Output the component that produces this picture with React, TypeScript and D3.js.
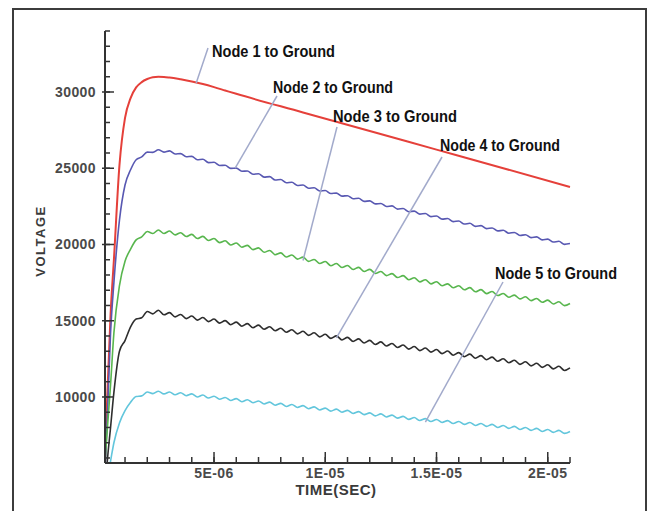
import React, { useEffect, useRef } from 'react';
import * as d3 from 'd3';

// sample times in microseconds (shared by nodes 2-5)
const timeUs = [
  0, 0.1, 0.2, 0.35, 0.5, 0.75, 1, 1.25,
  1.5, 1.75, 2, 2.25, 2.5, 2.75, 3, 3.25,
  3.5, 3.75, 4, 4.25, 4.5, 4.75, 5, 5.25,
  5.5, 5.75, 6, 6.25, 6.5, 6.75, 7, 7.25,
  7.5, 7.75, 8, 8.25, 8.5, 8.75, 9, 9.25,
  9.5, 9.75, 10, 10.25, 10.5, 10.75, 11, 11.25,
  11.5, 11.75, 12, 12.25, 12.5, 12.75, 13, 13.25,
  13.5, 13.75, 14, 14.25, 14.5, 14.75, 15, 15.25,
  15.5, 15.75, 16, 16.25, 16.5, 16.75, 17, 17.25,
  17.5, 17.75, 18, 18.25, 18.5, 18.75, 19, 19.25,
  19.5, 19.75, 20, 20.25, 20.5, 20.75, 21,
];

// node 1 is smooth, so it has its own coarser sampling
const node1TimeUs = [
  0, 0.1, 0.2, 0.35, 0.5, 0.75, 1, 1.25, 1.5, 1.75, 2, 2.25, 2.5,
  2.75, 3, 3.5, 4, 4.5, 5, 5.5, 6, 9, 12, 15, 18, 21,
];
const node1Voltage = [
  0, 5600, 10000, 15400, 19000, 25200, 28300, 29600, 30300, 30650, 30850, 30970, 31000,
  30990, 30950, 30830, 30690, 30520, 30320, 30100, 29880, 28660, 27440, 26220, 25000, 23770,
];

const node2Voltage = [
  0, 5000, 8500, 14200, 17500, 21600, 23900, 24900,
  25560, 25740, 26060, 26040, 26210, 26060, 26140, 25930,
  25960, 25750, 25780, 25560, 25590, 25370, 25390, 25180,
  25200, 24990, 25010, 24800, 24820, 24610, 24640, 24420,
  24450, 24230, 24260, 24050, 24080, 23870, 23900, 23690,
  23720, 23510, 23540, 23340, 23370, 23170, 23200, 23000,
  23030, 22830, 22860, 22660, 22690, 22490, 22530, 22320,
  22360, 22150, 22190, 21990, 22030, 21830, 21870, 21660,
  21700, 21500, 21540, 21340, 21390, 21190, 21240, 21040,
  21080, 20890, 20930, 20740, 20790, 20590, 20640, 20450,
  20500, 20300, 20350, 20160, 20210, 20010, 20060,
];

const node3Voltage = [
  0, 5500, 7800, 10800, 14200, 17300, 18900, 19700,
  20300, 20500, 20850, 20720, 20950, 20720, 20880, 20630,
  20770, 20520, 20660, 20390, 20530, 20260, 20390, 20120,
  20240, 19970, 20100, 19820, 19940, 19660, 19780, 19490,
  19610, 19330, 19450, 19180, 19310, 19040, 19170, 18890,
  19020, 18750, 18880, 18610, 18750, 18490, 18620, 18360,
  18500, 18230, 18370, 18100, 18230, 17960, 18090, 17830,
  17960, 17690, 17820, 17550, 17690, 17420, 17560, 17290,
  17420, 17160, 17290, 17030, 17170, 16900, 17040, 16780,
  16920, 16650, 16790, 16540, 16680, 16430, 16570, 16320,
  16460, 16210, 16350, 16100, 16240, 15990, 16130,
];

const node4Voltage = [
  0, 3500, 5700, 8000, 10300, 13000, 13700, 14600,
  15110, 15190, 15610, 15450, 15690, 15390, 15530, 15250,
  15410, 15140, 15310, 15040, 15210, 14940, 15110, 14840,
  15010, 14740, 14910, 14640, 14810, 14540, 14710, 14440,
  14610, 14340, 14510, 14240, 14410, 14140, 14310, 14040,
  14210, 13940, 14110, 13840, 14010, 13740, 13910, 13640,
  13810, 13540, 13710, 13440, 13610, 13340, 13510, 13240,
  13410, 13140, 13310, 13040, 13210, 12940, 13110, 12840,
  13010, 12740, 12910, 12640, 12810, 12540, 12710, 12440,
  12610, 12340, 12510, 12240, 12410, 12140, 12310, 12040,
  12210, 11940, 12110, 11840, 12010, 11740, 11910,
];

const node5Voltage = [
  0, 3500, 4600, 5800, 7000, 8300, 9100, 9650,
  10030, 10070, 10330, 10220, 10380, 10200, 10330, 10150,
  10280, 10080, 10200, 10000, 10130, 9930, 10050, 9850,
  9970, 9770, 9890, 9690, 9820, 9620, 9740, 9540,
  9660, 9460, 9580, 9380, 9510, 9310, 9430, 9230,
  9350, 9150, 9270, 9070, 9200, 9000, 9120, 8920,
  9040, 8840, 8960, 8760, 8890, 8690, 8810, 8610,
  8730, 8530, 8650, 8460, 8580, 8390, 8520, 8330,
  8450, 8260, 8390, 8200, 8330, 8130, 8260, 8070,
  8200, 8000, 8130, 7940, 8070, 7870, 8000, 7810,
  7940, 7740, 7870, 7680, 7810, 7610, 7740,
];

const seriesNames = [
  'Node 1 to Ground',
  'Node 2 to Ground',
  'Node 3 to Ground',
  'Node 4 to Ground',
  'Node 5 to Ground',
];

// where each callout arrow touches its curve (time in us, volts)
const pointerTimeUs = [4.2, 5.95, 9.0, 10.5, 14.5];
const pointerVoltage = [30590, 25010, 18950, 13880, 8350];

const yTickValues = [10000, 15000, 20000, 25000, 30000];
const yTickLabels = ['10000', '15000', '20000', '25000', '30000'];
const xTickValues = [5e-6, 1e-5, 1.5e-5, 2e-5];
const xTickLabels = ['5E-06', '1E-05', '1.5E-05', '2E-05'];

const seriesColors = ['#e5403a', '#5858b2', '#58b64e', '#2e2e2e', '#62c6dc'];
const seriesWidths = [2, 1.6, 1.6, 1.6, 1.6];

// label box (left x, baseline y, width) and the start of its pointer line
const labelLayout = [
  { x: 212, y: 57, w: 123, px: 208, py: 48 },
  { x: 273, y: 93, w: 120, px: 277, py: 96 },
  { x: 333, y: 122, w: 124, px: 337, py: 127 },
  { x: 440, y: 151, w: 120, px: 442, py: 157 },
  { x: 495, y: 279, w: 122, px: 503, py: 282 },
];

const App = () => {
  const svgRef = useRef<SVGSVGElement>(null);

  useEffect(() => {
    const svg = d3.select(svgRef.current);
    svg.selectAll('*').remove();

    const x = d3.scaleLinear().domain([1e-7, 2.1e-5]).range([105, 570]);
    const y = d3.scaleLinear().domain([5670, 34000]).range([463, 31]);
    const [x0, x1] = x.range();
    const [y0, y1] = y.range();

    svg.append('rect')
      .attr('width', 648)
      .attr('height', 511)
      .attr('fill', '#fff');

    // outer frame
    svg.append('rect')
      .attr('x', 13)
      .attr('y', 9)
      .attr('width', 633)
      .attr('height', 530)
      .attr('fill', 'none')
      .attr('stroke', '#3c3c3c')
      .attr('stroke-width', 2);

    svg.append('defs').append('clipPath')
      .attr('id', 'plotClip')
      .append('rect')
      .attr('x', x0)
      .attr('y', 20)
      .attr('width', x1 - x0 + 5)
      .attr('height', y0 - 20);

    // curves
    const allSeries = [
      { t: node1TimeUs, v: node1Voltage },
      { t: timeUs, v: node2Voltage },
      { t: timeUs, v: node3Voltage },
      { t: timeUs, v: node4Voltage },
      { t: timeUs, v: node5Voltage },
    ];

    const curves = svg.append('g').attr('clip-path', 'url(#plotClip)');
    allSeries.forEach((s, k) => {
      const line = d3.line<number>()
        .curve(d3.curveMonotoneX)
        .x(i => x(s.t[i] * 1e-6))
        .y(i => y(s.v[i]));
      curves.append('path')
        .datum(d3.range(s.t.length))
        .attr('fill', 'none')
        .attr('stroke', seriesColors[k])
        .attr('stroke-width', seriesWidths[k])
        .attr('stroke-linejoin', 'round')
        .attr('d', line);
    });

    const axisColor = '#333';
    const tickFont = '"Liberation Sans", Arial, sans-serif';
    const axes = svg.append('g')
      .attr('stroke', axisColor)
      .attr('stroke-width', 1.5);

    // Y ticks: minor every 1000, major with labels
    axes.selectAll('.yMinor')
      .data(d3.range(6000, 34001, 1000))
      .enter().append('line')
      .attr('x1', x0).attr('x2', x0 + 5)
      .attr('y1', d => y(d)).attr('y2', d => y(d));
    axes.selectAll('.yMajor')
      .data(yTickValues)
      .enter().append('line')
      .attr('x1', x0 - 3).attr('x2', x0 + 9)
      .attr('y1', d => y(d)).attr('y2', d => y(d));

    // X ticks: minor every 1E-06, major with labels
    axes.selectAll('.xMinor')
      .data(d3.range(1, 22).map(v => v * 1e-6))
      .enter().append('line')
      .attr('x1', d => x(d)).attr('x2', d => x(d))
      .attr('y1', y0).attr('y2', y0 - 6);
    axes.selectAll('.xMajor')
      .data(xTickValues)
      .enter().append('line')
      .attr('x1', d => x(d)).attr('x2', d => x(d))
      .attr('y1', y0).attr('y2', y0 - 11);

    // axis lines
    axes.append('line')
      .attr('x1', x0).attr('x2', x0)
      .attr('y1', y1).attr('y2', y0)
      .attr('stroke-width', 2);
    axes.append('line')
      .attr('x1', x0).attr('x2', x1)
      .attr('y1', y0).attr('y2', y0)
      .attr('stroke-width', 2);

    const tickText = (sel: any) => sel
      .attr('fill', '#4a4a4a')
      .style('font-family', tickFont)
      .style('font-size', '14px')
      .style('font-weight', 'bold')
      .style('letter-spacing', '0.4px');

    svg.selectAll('.yLabel')
      .data(yTickValues)
      .enter().append('text')
      .attr('x', x0 - 9)
      .attr('y', d => y(d) + 5)
      .attr('text-anchor', 'end')
      .call(tickText)
      .text((d, i) => yTickLabels[i]);

    svg.selectAll('.xLabel')
      .data(xTickValues)
      .enter().append('text')
      .attr('x', d => x(d))
      .attr('y', y0 + 15)
      .attr('text-anchor', 'middle')
      .call(tickText)
      .text((d, i) => xTickLabels[i]);

    // axis titles
    svg.append('text')
      .attr('x', 336)
      .attr('y', 495)
      .attr('text-anchor', 'middle')
      .attr('fill', '#3a3a3a')
      .style('font-family', tickFont)
      .style('font-size', '15px')
      .style('font-weight', 'bold')
      .style('letter-spacing', '0.5px')
      .text('TIME(SEC)');

    svg.append('text')
      .attr('transform', 'translate(45,241) rotate(-90)')
      .attr('text-anchor', 'middle')
      .attr('fill', '#3a3a3a')
      .style('font-family', tickFont)
      .style('font-size', '13px')
      .style('font-weight', 'bold')
      .style('letter-spacing', '1.5px')
      .text('VOLTAGE');

    // callouts
    labelLayout.forEach((l, k) => {
      svg.append('line')
        .attr('x1', l.px)
        .attr('y1', l.py)
        .attr('x2', x(pointerTimeUs[k] * 1e-6))
        .attr('y2', y(pointerVoltage[k]))
        .attr('stroke', '#a2aacb')
        .attr('stroke-width', 1.5);

      svg.append('text')
        .attr('x', l.x)
        .attr('y', l.y)
        .attr('textLength', l.w)
        .attr('lengthAdjust', 'spacingAndGlyphs')
        .attr('fill', '#111')
        .style('font-family', '"Liberation Sans Narrow", "Liberation Sans", Arial, sans-serif')
        .style('font-size', '17px')
        .style('font-weight', 'bold')
        .text(seriesNames[k]);
    });
  }, []);

  return (
    <svg
      ref={svgRef}
      width={648}
      height={511}
      style={{ position: 'absolute', left: 0, top: 0 }}
    />
  );
};

export default App;
